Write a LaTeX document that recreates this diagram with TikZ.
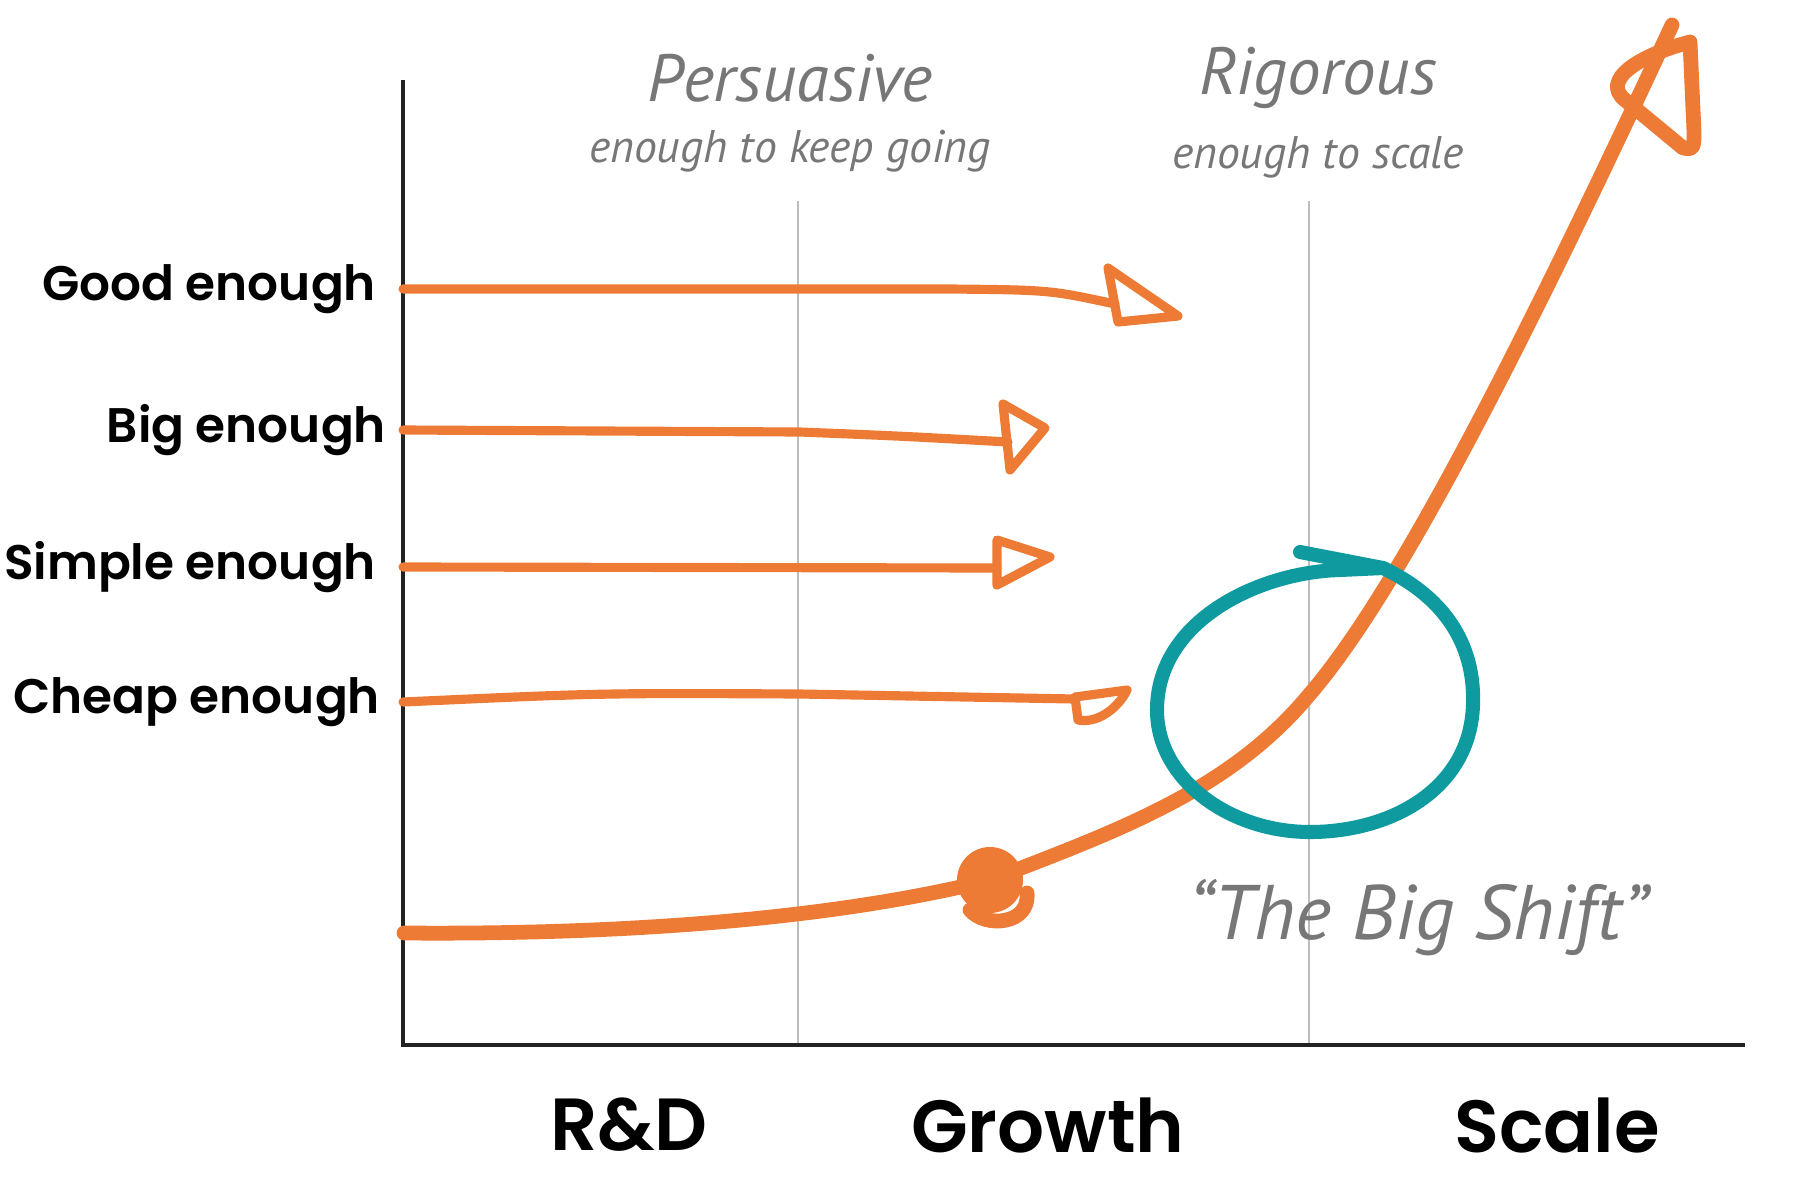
\documentclass[tikz,border=0pt]{standalone}
\usepackage{fontspec}
\newfontfamily\labelfont{Poppins}[BoldFont={* SemiBold}]
\newfontfamily\handfont{PT Sans}
\definecolor{curve}{HTML}{EE7B35}
\definecolor{ring}{HTML}{0F9AA0}
\definecolor{hand}{HTML}{777777}
\definecolor{guide}{HTML}{BDBDBD}
\definecolor{axisline}{HTML}{222222}
\usepackage{tikz}
\usetikzlibrary{positioning}
\tikzstyle{base}=[inner sep=0pt, outer sep=0pt]
\tikzstyle{stroke}=[curve, line width=2.6pt, line cap=round, line join=round]
\tikzstyle{rowlabel}=[anchor=east, font=\labelfont\bfseries\fontsize{13.8}{16}\selectfont]
\tikzstyle{stage}=[font=\labelfont\bfseries\fontsize{21}{25}\selectfont]
\tikzstyle{note}=[hand, font=\handfont\itshape]

\begin{document}
\begin{tikzpicture}[base, x=0.01cm, y=-0.01cm]
    \useasboundingbox (0,0) rectangle (1800,1200);
    % guides and axes
    \draw [guide, line width=0.8pt] (798,201) -- (798,1045);
    \draw [guide, line width=0.8pt] (1309,201) -- (1309,1045);
    \coordinate (origin) at (403,1045);
    \draw [axisline, line width=1.4pt] (403,80) -- (origin) -- (1745,1045);
    % headings
    \node [note, font=\handfont\itshape\fontsize{19}{22}\selectfont] (persuasive) at (790,78) {Persuasive};
    \node [note, font=\handfont\itshape\fontsize{13}{16}\selectfont, below=8pt of persuasive] (persuasivesub) {enough to keep going};
    \node [note, font=\handfont\itshape\fontsize{19}{22}\selectfont] (rigorous) at (1318,78) {Rigorous};
    \node [note, font=\handfont\itshape\fontsize{13}{16}\selectfont, below=8pt of rigorous] (rigoroussub) {enough to scale};
    % rows
    \node [rowlabel] (good) at (376,289) {Good enough};
    \node [rowlabel] (big) at (386,430) {Big enough};
    \node [rowlabel] (simple) at (376,567) {Simple enough};
    \node [rowlabel] (cheap) at (380,702) {Cheap enough};
    \draw [stroke] (good.east -| origin) -- (950,289) .. controls (1050,290) .. (1115,304);
    \draw [stroke] (1108,268) -- (1118,322) -- (1178,316) -- cycle;
    \draw [stroke] (big.east -| origin) -- (800,432) .. controls (900,436) .. (1008,442);
    \draw [stroke] (1003,404) -- (1010,470) -- (1045,428) -- cycle;
    \draw [stroke] (simple.east -| origin) -- (997,568);
    \draw [stroke] (997,540) -- (997,585) -- (1050,557) -- cycle;
    \draw [stroke] (cheap.east -| origin) .. controls (600,693) .. (800,694) -- (1075,699);
    \draw [stroke] (1075,697) -- (1078,720) .. controls (1100,724) and (1120,705) .. (1127,690) -- cycle;
    % growth curve
    \coordinate (start) at (404,933);
    \coordinate (knee) at (990,880);
    \coordinate (shift) at (1309,695);
    \coordinate (tip) at (1672,25);
    \draw [stroke, line width=4.2pt] (start) .. controls (650,935) and (850,915) .. (knee)
        .. controls (1120,830) and (1230,790) .. (shift)
        .. controls (1400,590) and (1530,330) .. (tip);
    \draw [stroke, line width=4.2pt] (1690,42) .. controls (1640,55) and (1600,80) .. (1625,100)
        -- (1683,148) .. controls (1695,150) .. (1693,110) -- (1690,42);
    \fill [curve] (knee) circle (33);
    \draw [stroke, line width=4.2pt] (1027,893) .. controls (1030,925) and (985,928) .. (970,910);
    % the big shift
    \draw [ring, line width=4pt, line cap=round, line join=round] (1300,552) -- (1383,568)
        .. controls (1450,600) and (1475,650) .. (1473,705)
        .. controls (1470,790) and (1390,832) .. (1310,832)
        .. controls (1230,832) and (1157,780) .. (1157,710)
        .. controls (1157,620) and (1260,572) .. (1340,570) -- (1383,568);
    \node [note, font=\handfont\itshape\fontsize{22}{26}\selectfont] (bigshift) at (1418,918) {“The Big Shift”};
    % stages
    \node [stage] (rd) at (629,1125) {R\&D};
    \node [stage] (growth) at (1048,1125) {Growth};
    \node [stage] (scale) at (1557,1125) {Scale};
\end{tikzpicture}
\end{document}
